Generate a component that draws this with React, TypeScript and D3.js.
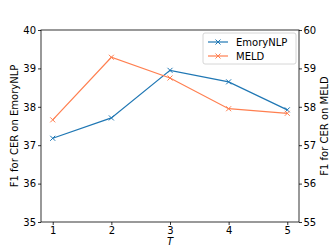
import React, { useEffect, useRef } from 'react';
import * as d3 from 'd3';

const steps = [1, 2, 3, 4, 5];
const emoryNLP = [37.18, 37.71, 38.95, 38.65, 37.92];
const meld = [57.66, 59.29, 58.75, 57.95, 57.83];
const leftTicks = [35, 36, 37, 38, 39, 40];
const rightTicks = [55, 56, 57, 58, 59, 60];

const BLUE = '#1f77b4';
const ORANGE = '#ff7f50';
const FONT = 'DejaVu Sans, sans-serif';

export default function App() {
  const ref = useRef<SVGSVGElement>(null);

  useEffect(() => {
    const svg = d3.select(ref.current);
    svg.selectAll('*').remove();

    const margin = { top: 30, right: 33, bottom: 27, left: 41 };
    const width = 332 - margin.left - margin.right;
    const height = 249 - margin.top - margin.bottom;

    const g = svg.append('g').attr('transform', `translate(${margin.left},${margin.top})`);

    const x = d3.scaleLinear().domain([0.8, 5.2]).range([0, width]);
    const yL = d3.scaleLinear().domain([35, 40]).range([height, 0]);
    const yR = d3.scaleLinear().domain([55, 60]).range([height, 0]);

    const styleAxis = (sel: any) => {
      sel.select('.domain').remove();
      sel.selectAll('line').attr('stroke', '#000').attr('stroke-width', 0.8);
      sel.selectAll('text').attr('font-family', FONT).attr('font-size', 10).attr('fill', '#000');
    };

    g.append('g').attr('transform', `translate(0,${height})`)
      .call(d3.axisBottom(x).tickValues(steps).tickFormat(d3.format('d')).tickSize(3).tickPadding(1.5))
      .call(styleAxis);
    g.append('g')
      .call(d3.axisLeft(yL).tickValues(leftTicks).tickFormat(d3.format('d')).tickSize(3).tickPadding(2))
      .call(styleAxis);
    g.append('g').attr('transform', `translate(${width},0)`)
      .call(d3.axisRight(yR).tickValues(rightTicks).tickFormat(d3.format('d')).tickSize(3).tickPadding(1.5))
      .call(styleAxis);

    g.append('rect').attr('width', width).attr('height', height)
      .attr('fill', 'none').attr('stroke', '#000').attr('stroke-width', 0.8);

    const drawSeries = (vals: number[], y: d3.ScaleLinear<number, number>, color: string) => {
      const line = d3.line<number>().x((d, i) => x(steps[i])).y(d => y(d));
      g.append('path').datum(vals).attr('d', line).attr('fill', 'none')
        .attr('stroke', color).attr('stroke-width', 1.2);
      g.selectAll(null).data(vals).enter().append('path')
        .attr('transform', (d, i) => `translate(${x(steps[i])},${y(d)})`)
        .attr('d', 'M-2.5,-2.5L2.5,2.5M-2.5,2.5L2.5,-2.5')
        .attr('stroke', color).attr('stroke-width', 1);
    };
    drawSeries(emoryNLP, yL, BLUE);
    drawSeries(meld, yR, ORANGE);

    // legend
    const lg = g.append('g').attr('transform', `translate(${width - 96},3)`);
    lg.append('rect').attr('width', 93).attr('height', 31).attr('rx', 2)
      .attr('fill', '#fff').attr('fill-opacity', 0.8).attr('stroke', '#ccc').attr('stroke-width', 0.8);
    [['EmoryNLP', BLUE], ['MELD', ORANGE]].forEach(([name, color], i) => {
      const yy = 9 + i * 14;
      lg.append('line').attr('x1', 5).attr('x2', 25).attr('y1', yy).attr('y2', yy)
        .attr('stroke', color).attr('stroke-width', 1.2);
      lg.append('path').attr('transform', `translate(15,${yy})`)
        .attr('d', 'M-2.5,-2.5L2.5,2.5M-2.5,2.5L2.5,-2.5').attr('stroke', color).attr('stroke-width', 1);
      lg.append('text').attr('x', 33).attr('y', yy).attr('dy', '0.35em')
        .attr('font-family', FONT).attr('font-size', 10).text(name);
    });

    // axis labels
    svg.append('text').attr('transform', `translate(14,${margin.top + height / 2}) rotate(-90)`)
      .attr('text-anchor', 'middle').attr('dy', '0.35em')
      .attr('font-family', FONT).attr('font-size', 10).text('F1 for CER on EmoryNLP');
    svg.append('text').attr('transform', `translate(324,${margin.top + height / 2}) rotate(-90)`)
      .attr('text-anchor', 'middle').attr('dy', '0.35em')
      .attr('font-family', FONT).attr('font-size', 10).text('F1 for CER on MELD');
    svg.append('text').attr('x', margin.left + width / 2).attr('y', 245)
      .attr('text-anchor', 'middle').attr('font-style', 'italic')
      .attr('font-family', FONT).attr('font-size', 10).text('T');
  }, []);

  return (
    <svg ref={ref} width={332} height={249}
      style={{ position: 'absolute', left: 0, top: 0, background: '#fff' }} />
  );
}
